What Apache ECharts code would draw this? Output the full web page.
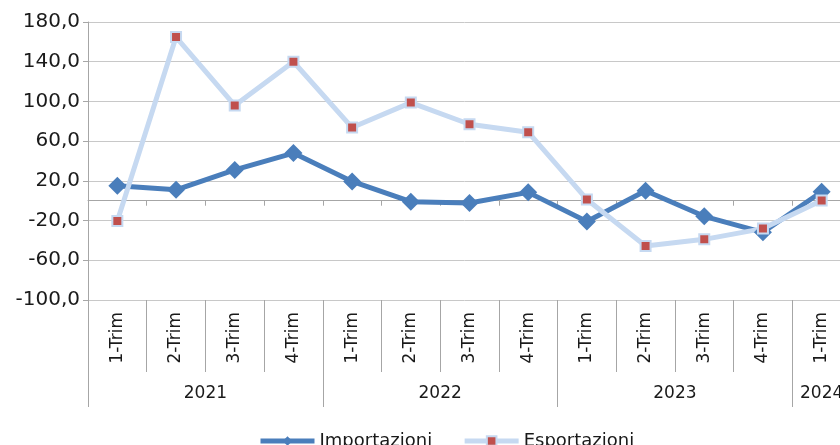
<!DOCTYPE html>
<html>
<head>
<meta charset="utf-8">
<script src="https://cdn.jsdelivr.net/npm/echarts@6/dist/echarts.min.js"></script>
<style>
  html, body { margin: 0; padding: 0; background: #fff; }
  #myChart { width: 840px; height: 445px; }
</style>
</head>
<body>
<div id="myChart"></div>
<script>
// dati
const quarters = ['1-Trim', '2-Trim', '3-Trim', '4-Trim',
                  '1-Trim', '2-Trim', '3-Trim', '4-Trim',
                  '1-Trim', '2-Trim', '3-Trim', '4-Trim',
                  '1-Trim'];
const years = ['2021', '2022', '2023', '2024'];
const quartersPerYear = [4, 4, 4, 1];
const importazioni = [15, 11, 31, 48, 19.4, -1, -2.3, 8.4, -21, 10, -15.7, -31.8, 9];
const esportazioni = [-20.4, 164.8, 96, 140, 73.7, 98.8, 77, 69, 1.3, -45.6, -38.9, -28.1, 0.3];

// confini e centri dei gruppi anno
let yearBounds = [0];
let yearCenters = [];
let acc = 0;
quartersPerYear.forEach(function (n) {
    yearCenters.push(acc + n / 2);
    acc += n;
    if (acc < quarters.length) yearBounds.push(acc);
});

const font = 'DejaVu Sans';
const grey = '#a6a6a6';
const ink = '#1a1a1a';

let myChart = echarts.init(document.getElementById('myChart'));
myChart.setOption({
    animation: false,
    textStyle: { fontFamily: font },
    grid: {
        left: 88,
        right: -11,
        top: 22,
        bottom: 145,
        outerBoundsMode: 'none'
    },
    legend: {
        data: ['Importazioni', 'Esportazioni'],
        left: 253,
        top: 427,
        itemWidth: 54,
        itemHeight: 12,
        itemGap: 30,
        lineStyle: { width: 5 },
        textStyle: { fontFamily: font, fontSize: 18, color: ink }
    },
    xAxis: [
        {
            // asse sullo zero
            type: 'category',
            data: quarters,
            axisLine: { onZero: true, lineStyle: { color: grey, width: 1 } },
            axisTick: { show: true, length: 5, interval: 0, lineStyle: { color: grey } },
            axisLabel: { show: false },
            splitLine: { show: false }
        },
        {
            // trimestri
            type: 'category',
            data: quarters,
            position: 'bottom',
            axisLine: { onZero: false, show: false },
            axisTick: { show: true, length: 72, interval: 0, lineStyle: { color: grey } },
            axisLabel: {
                interval: 0,
                rotate: 90,
                margin: 12,
                fontFamily: font,
                fontSize: 17,
                color: ink
            },
            splitLine: { show: false }
        },
        {
            // anni
            type: 'value',
            min: 0,
            max: quarters.length,
            position: 'bottom',
            axisLine: { onZero: false, show: false },
            axisTick: {
                show: true,
                length: 107,
                customValues: yearBounds,
                lineStyle: { color: grey }
            },
            axisLabel: {
                customValues: yearCenters,
                margin: 85,
                fontFamily: font,
                fontSize: 17,
                color: ink,
                formatter: function (v) {
                    return years[yearCenters.indexOf(v)];
                }
            },
            splitLine: { show: false }
        }
    ],
    yAxis: {
        type: 'value',
        min: -100,
        max: 180,
        interval: 40,
        axisLine: { show: true, lineStyle: { color: grey } },
        axisTick: { show: true, length: 5, lineStyle: { color: grey } },
        axisLabel: {
            margin: 8,
            fontFamily: font,
            fontSize: 20,
            color: ink,
            formatter: function (v) { return v.toFixed(1).replace('.', ','); }
        },
        splitLine: { lineStyle: { color: '#c8c8c8', width: 1 } }
    },
    series: [
        {
            name: 'Importazioni',
            type: 'line',
            xAxisIndex: 0,
            data: importazioni,
            symbol: 'diamond',
            symbolSize: 18,
            lineStyle: { color: '#4a7ebb', width: 5 },
            itemStyle: { color: '#4a7ebb' }
        },
        {
            name: 'Esportazioni',
            type: 'line',
            xAxisIndex: 0,
            data: esportazioni,
            symbol: 'rect',
            symbolSize: 10,
            lineStyle: { color: '#c6d9f1', width: 5 },
            itemStyle: { color: '#c0504d', borderColor: '#c6d9f1', borderWidth: 2 }
        }
    ]
});
</script>
</body>
</html>
